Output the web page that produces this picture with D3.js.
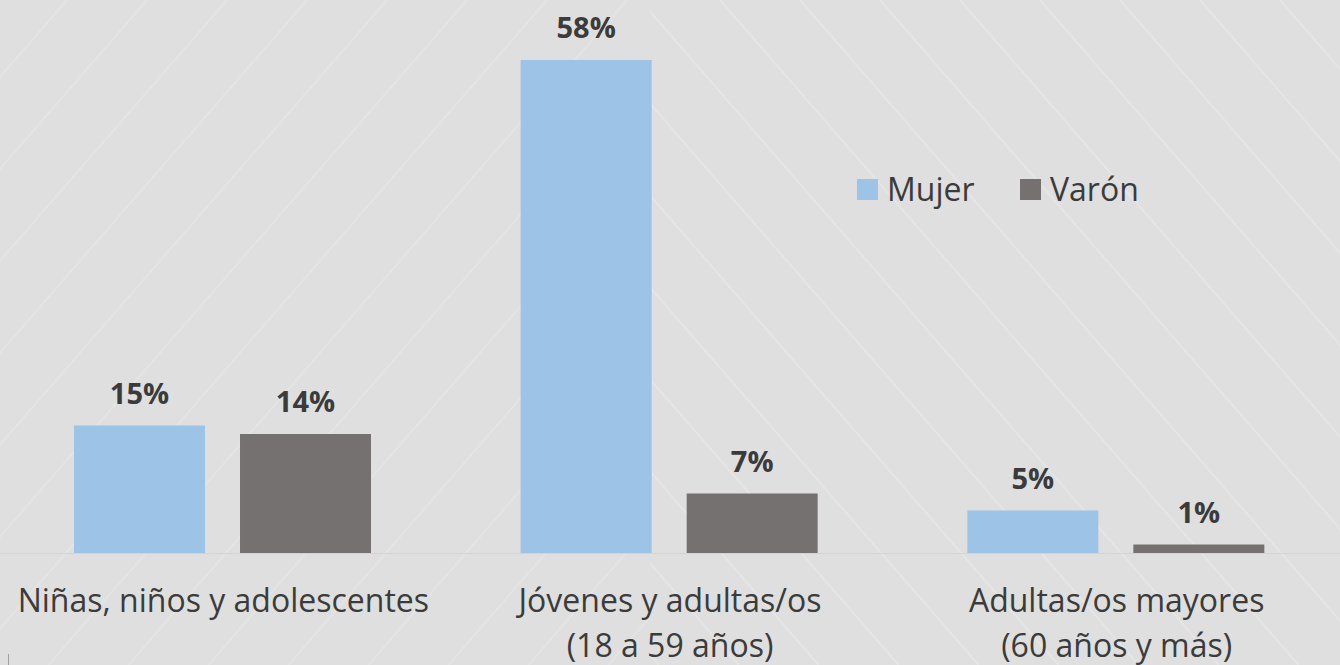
<!DOCTYPE html>
<html>
<head>
<meta charset="utf-8">
<script src="https://cdn.jsdelivr.net/npm/d3@7"></script>
<style>
  body { margin:0; background:#dfdfdf; }
  svg { display:block; font-family:"Open Sans", sans-serif; }
</style>
</head>
<body>
<svg id="chart" width="1340" height="665"></svg>
<script>
const WIDTH = 1340;
const HEIGHT = 665;
const BASELINE = 553;
const TOP_Y = 60;

// data
const categories = [
  ["Niñas, niños y adolescentes"],
  ["Jóvenes y adultas/os", "(18 a 59 años)"],
  ["Adultas/os mayores", "(60 años y más)"]
];
const seriesNames = ["Mujer", "Varón"];
const mujer = [15, 58, 5];
const varon = [14, 7, 1];
const colors = ["#9dc3e6", "#767171"];

let svg = d3.select("#chart");

// background stripes
svg.append("rect").attr("width",WIDTH).attr("height",HEIGHT).attr("fill","#dfdfdf");
let defs = svg.append("defs");
defs.append("clipPath").attr("id","leftClip")
    .append("rect").attr("x",0).attr("y",0).attr("width",650).attr("height",HEIGHT);
defs.append("clipPath").attr("id","rightClip")
    .append("rect").attr("x",650).attr("y",0).attr("width",WIDTH-650).attr("height",HEIGHT);
let stripeOffsets = d3.range(-800, 1500, 80);
svg.append("g").attr("clip-path","url(#leftClip)")
   .selectAll("line").data(stripeOffsets).join("line")
   .attr("x1",d=>d+67).attr("y1",0)
   .attr("x2",d=>d+67-HEIGHT*0.87).attr("y2",HEIGHT)
   .attr("stroke","#ffffff").attr("stroke-opacity",0.16).attr("stroke-width",2);
svg.append("g").attr("clip-path","url(#rightClip)")
   .selectAll("line").data(stripeOffsets).join("line")
   .attr("x1",d=>d+640).attr("y1",0)
   .attr("x2",d=>d+640+HEIGHT*0.87).attr("y2",HEIGHT)
   .attr("stroke","#ffffff").attr("stroke-opacity",0.2).attr("stroke-width",2);

// scales
let x0 = d3.scaleBand().domain(d3.range(categories.length)).range([0, WIDTH]);
let x1 = d3.scaleBand().domain(seriesNames).range([74, 371]).paddingInner(0.211);
let yScale = d3.scaleLinear().domain([0, 58]).range([BASELINE, TOP_Y]);

let rows = categories.map((c,i)=>({i:i, values:[mujer[i], varon[i]]}));

// axis line
svg.append("line")
   .attr("x1",0).attr("x2",WIDTH)
   .attr("y1",BASELINE+0.5).attr("y2",BASELINE+0.5)
   .attr("stroke","#d3d3d3").attr("stroke-width",1);

// bars
let groups = svg.append("g").selectAll("g").data(rows).join("g")
   .attr("transform",d=>"translate("+x0(d.i)+",0)");
groups.selectAll("rect")
   .data(d=>d.values.map((v,k)=>({k:k, v:v})))
   .join("rect")
   .attr("x",d=>x1(seriesNames[d.k]))
   .attr("width",x1.bandwidth())
   .attr("y",d=>yScale(d.v))
   .attr("height",d=>BASELINE-yScale(d.v))
   .attr("fill",d=>colors[d.k]);

// value labels
groups.selectAll("text")
   .data(d=>d.values.map((v,k)=>({k:k, v:v})))
   .join("text")
   .attr("x",d=>x1(seriesNames[d.k])+x1.bandwidth()/2)
   .attr("y",d=>yScale(d.v)-22)
   .attr("text-anchor","middle")
   .attr("font-size",29).attr("font-weight","bold")
   .attr("fill","#3b3b3b")
   .text(d=>d.v+"%");

// category labels
let catLabels = svg.append("g").selectAll("text").data(categories).join("text")
   .attr("x",(d,i)=>x0(i)+x0.bandwidth()/2)
   .attr("y",612)
   .attr("text-anchor","middle")
   .attr("font-size",32)
   .attr("fill","#3b3b3b");
catLabels.selectAll("tspan").data(d=>d).join("tspan")
   .attr("x",function(){ return d3.select(this.parentNode).attr("x"); })
   .attr("dy",(d,i)=>i===0?0:45)
   .text(d=>d);

// legend
let legend = svg.append("g").selectAll("g").data(seriesNames).join("g")
   .attr("transform",(d,i)=>"translate("+(857+i*163)+",179)");
legend.append("rect").attr("width",21).attr("height",21).attr("fill",(d,i)=>colors[i]);
legend.append("text").attr("x",30).attr("y",22)
   .attr("font-size",32).attr("fill","#3b3b3b").text(d=>d);

// small mark at bottom left
svg.append("line").attr("x1",8.5).attr("x2",8.5).attr("y1",654).attr("y2",665)
   .attr("stroke","#a0a0a0").attr("stroke-width",1);
</script>
</body>
</html>
